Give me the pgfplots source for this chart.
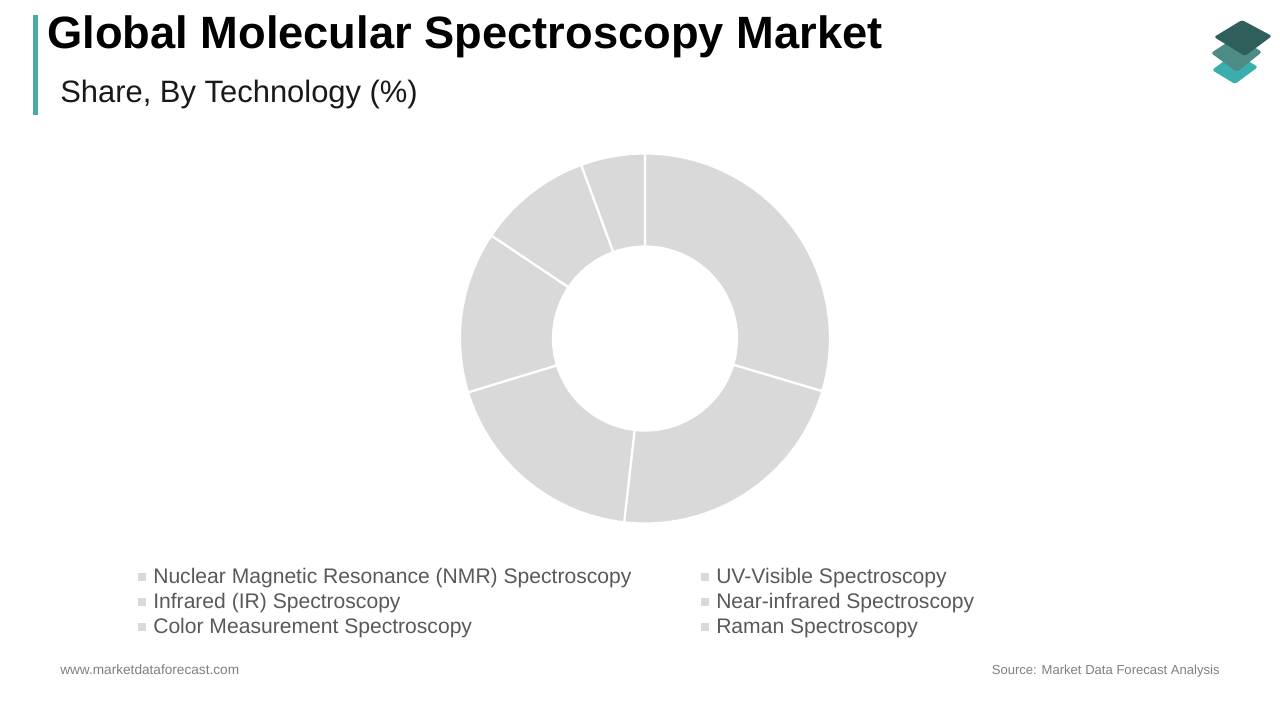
\documentclass[border=0pt]{standalone}
\usepackage{pgfplots}
\usepackage{pgfplotstable}
\pgfplotsset{compat=1.18}
\usepackage{fontspec}
\setmainfont{Liberation Sans}
\definecolor{slicegrey}{HTML}{D9D9D9}
\definecolor{legtext}{HTML}{595959}
\definecolor{foot}{HTML}{7F7F7F}
\definecolor{tealbar}{HTML}{4AA9A4}
\definecolor{logoA}{HTML}{2F5F5A}
\definecolor{logoB}{HTML}{4E8B86}
\definecolor{logoC}{HTML}{3AAEAE}

\pgfplotstableread[col sep=comma]{
label,value
Nuclear Magnetic Resonance (NMR) Spectroscopy,29.6
UV-Visible Spectroscopy,22.2
Infrared (IR) Spectroscopy,18.5
Near-infrared Spectroscopy,14.1
Color Measurement Spectroscopy,10.0
Raman Spectroscopy,5.6
}\sharetable

\begin{document}
\begin{tikzpicture}
% cumulative angles, clockwise from 12 o'clock
\gdef\acc{0}
\foreach \i in {0,...,5}{
  \pgfplotstablegetelem{\i}{value}\of\sharetable
  \pgfmathsetmacro\s{90-3.6*\acc}
  \pgfmathsetmacro\newacc{\acc+\pgfplotsretval}
  \pgfmathsetmacro\e{90-3.6*\newacc}
  \expandafter\xdef\csname sa\i\endcsname{\s}
  \expandafter\xdef\csname ea\i\endcsname{\e}
  \global\let\acc\newacc
}
\begin{axis}[
  x=0.25mm, y=0.25mm,
  xmin=0, xmax=1280, ymin=0, ymax=720,
  hide axis, clip=false,
]
% donut slices
\pgfplotsinvokeforeach{0,...,5}{
  \fill[slicegrey, draw=white, line width=0.55mm, line join=round]
    ([shift={(\csname sa#1\endcsname:46.25mm)}]axis cs:645,381.5)
    arc[start angle=\csname sa#1\endcsname, end angle=\csname ea#1\endcsname, radius=46.25mm]
    -- ([shift={(\csname ea#1\endcsname:23mm)}]axis cs:645,381.5)
    arc[start angle=\csname ea#1\endcsname, end angle=\csname sa#1\endcsname, radius=23mm]
    -- cycle;
}
% title block
\fill[tealbar] (axis cs:33,605) rectangle (axis cs:37.5,705);
\node[anchor=base west, inner sep=0pt, font=\fontsize{32.2}{36}\selectfont\bfseries] at (axis cs:47,672) {Global Molecular Spectroscopy Market};
\node[anchor=base west, inner sep=0pt, font=\fontsize{22}{25}\selectfont, text=black!90] at (axis cs:60,618) {Share, By Technology (\%)};
% logo
\fill[logoC, rounded corners=0.6mm] (axis cs:1212,650) -- (axis cs:1235,636) -- (axis cs:1258,653) -- (axis cs:1235,667) -- cycle;
\fill[logoB, rounded corners=0.6mm] (axis cs:1211,667) -- (axis cs:1237,648) -- (axis cs:1262,668) -- (axis cs:1237,684) -- cycle;
\fill[logoA, rounded corners=0.6mm] (axis cs:1214,683) -- (axis cs:1245,664) -- (axis cs:1272,684) -- (axis cs:1242,700) -- cycle;
% legend
\tikzset{legsq/.style={fill=slicegrey, draw=none, minimum size=2.2mm, inner sep=0pt},
         legtx/.style={anchor=base west, inner sep=0pt, text=legtext, font=\fontsize{15}{18}\selectfont}}
\node[legsq] at (axis cs:142,143) {};
\node[legtx] at (axis cs:153,137) {Nuclear Magnetic Resonance (NMR) Spectroscopy};
\node[legsq] at (axis cs:142,118) {};
\node[legtx] at (axis cs:153,112) {Infrared (IR) Spectroscopy};
\node[legsq] at (axis cs:142,93) {};
\node[legtx] at (axis cs:153,87) {Color Measurement Spectroscopy};
\node[legsq] at (axis cs:705,143) {};
\node[legtx] at (axis cs:716,137) {UV-Visible Spectroscopy};
\node[legsq] at (axis cs:705,118) {};
\node[legtx] at (axis cs:716,112) {Near-infrared Spectroscopy};
\node[legsq] at (axis cs:705,93) {};
\node[legtx] at (axis cs:716,87) {Raman Spectroscopy};
% footer
\node[anchor=base west, inner sep=0pt, text=foot, font=\fontsize{9.7}{11}\selectfont] at (axis cs:60,46) {www.marketdataforecast.com};
\node[anchor=base east, inner sep=0pt, text=foot, font=\fontsize{9.3}{11}\selectfont] at (axis cs:1220,46) {Source: Market Data Forecast Analysis};
\end{axis}
\pgfresetboundingbox
\path (0,0) rectangle (320mm,180mm);
\end{tikzpicture}
\end{document}
